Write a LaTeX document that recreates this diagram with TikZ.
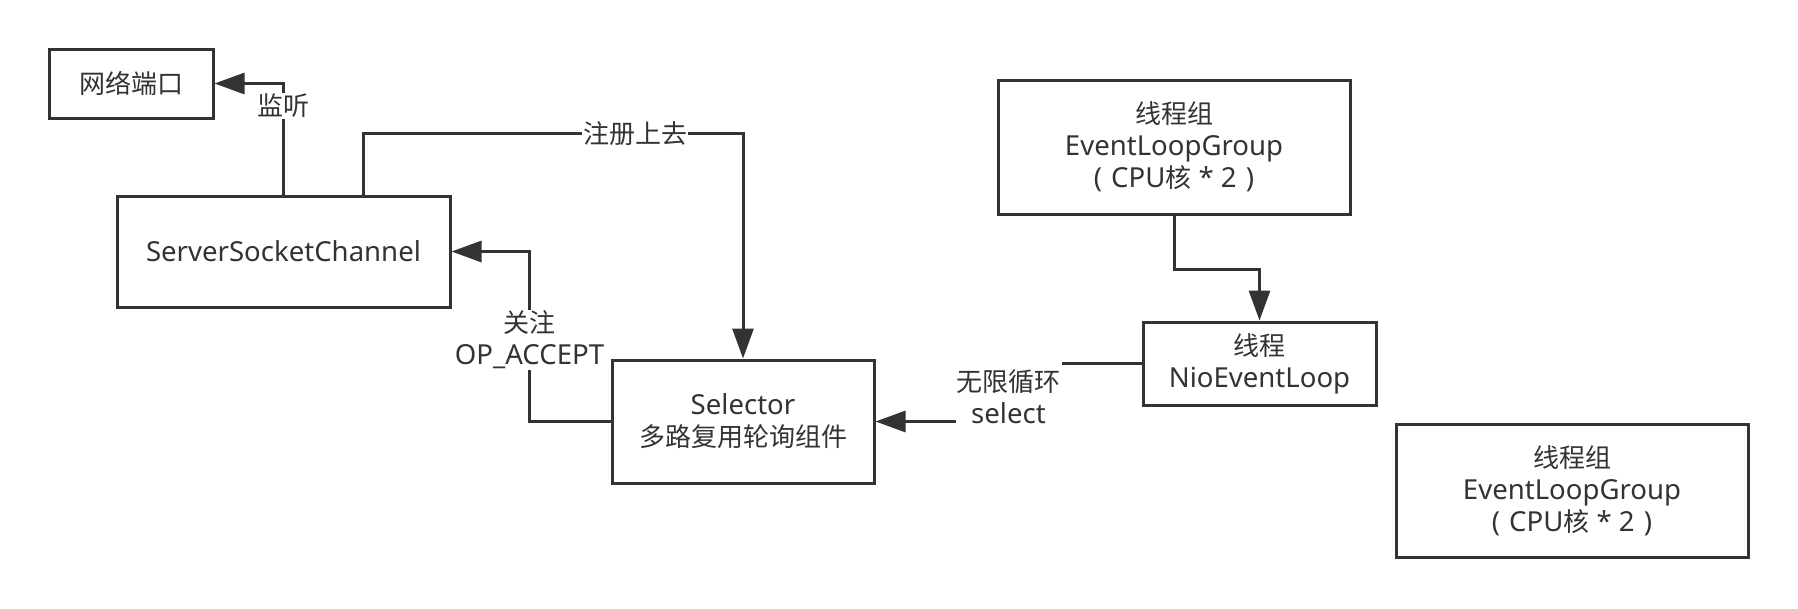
\documentclass[tikz,border=0pt]{standalone}
\usepackage{fontspec}
\setmainfont{Noto Sans}[Scale=1.06]
\newfontfamily\cjk{Noto Sans CJK SC}
\usetikzlibrary{arrows.meta}
\definecolor{ink}{HTML}{333333}
\tikzset{
  box/.style={draw=ink, line width=3pt, fill=white, inner sep=0pt, align=center, text=ink,
    font=\fontsize{26}{32}\selectfont},
  arr/.style={draw=ink, line width=3pt, -{Triangle[length=30pt,width=21pt]}},
  lbl/.style={fill=white, inner sep=1pt, text=ink, align=center, font=\fontsize{26}{32}\selectfont},
}
\newcommand{\cpuline}{(\hspace{9pt}CPU{\cjk 核} * 2\hspace{9pt})}
\begin{document}
\begin{tikzpicture}[x=1pt,y=-1pt]
\useasboundingbox (0,0) rectangle (1798,608);
\node[box, minimum width=164pt, minimum height=69pt] (port) at (131,83.5) {\cjk 网络端口};
\node[box, minimum width=333pt, minimum height=111pt] (ssc) at (283.5,251.5) {ServerSocketChannel};
\node[box, minimum width=262pt, minimum height=123pt] (sel) at (743,421.5) {Selector\\{\cjk 多路复用轮询组件}};
\node[box, minimum width=352pt, minimum height=134pt] (elg1) at (1174,147) {{\cjk 线程组}\\EventLoopGroup\\\cpuline};
\node[box, minimum width=233pt, minimum height=83pt] (nio) at (1259.5,363.5) {{\cjk 线程}\\NioEventLoop};
\node[box, minimum width=352pt, minimum height=133pt] (elg2) at (1572,490.5) {{\cjk 线程组}\\EventLoopGroup\\\cpuline};

\draw[arr] (ssc.north) |- node[lbl, pos=0.40] {\cjk 监听} (port.east);
\draw[arr] ([xshift=79.5pt]ssc.north) -- ++(0,-61) -| node[lbl, pos=0.358] {\cjk 注册上去} (sel.north);
\draw[arr] (sel.west) -- ++(-81,0) |- node[lbl, pos=0.24] {{\cjk 关注}\\OP\_ACCEPT} (ssc.east);
\draw[arr] (elg1.south) -- ++(0,54) -| (nio.north);
\draw[arr] (nio.west) -- ++(-133,0) |- node[lbl, inner ysep=8pt, pos=0.29] {{\cjk 无限循环}\\select} (sel.east);
\end{tikzpicture}
\end{document}
